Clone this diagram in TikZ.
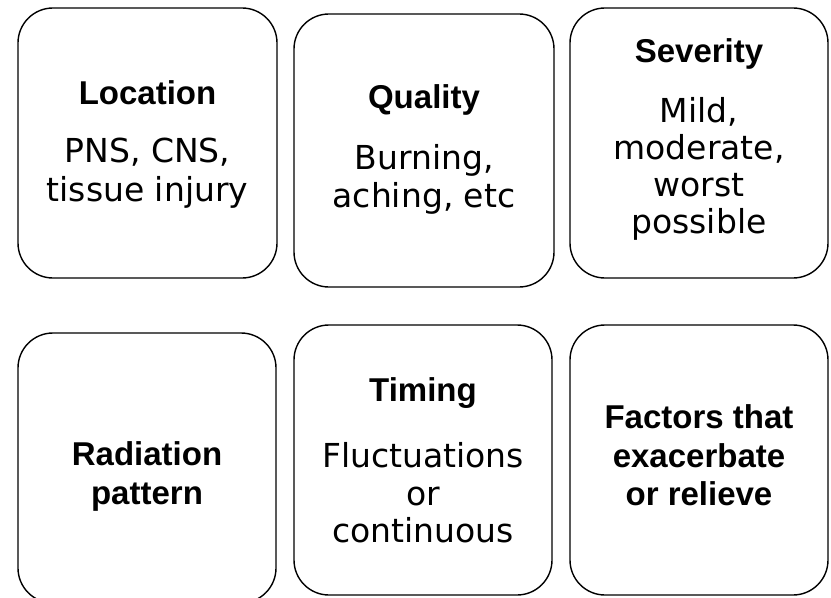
\documentclass[tikz,border=0pt]{standalone}
\usepackage{fontspec}
\setmainfont{DejaVu Sans}
\newfontfamily\headfont{Liberation Sans}
\tikzset{
  card/.style={draw=black, line width=1.4bp, rounded corners=35bp, inner sep=0pt},
  head/.style={anchor=base, inner sep=0pt, font=\headfont\bfseries\fontsize{33bp}{38bp}\selectfont},
  body/.style={anchor=base, inner sep=0pt, font=\fontsize{33bp}{38bp}\selectfont},
}
\begin{document}
\begin{tikzpicture}[x=1bp,y=-1bp]
\useasboundingbox (0,0) rectangle (831,598);
% cards
\node[card, minimum width=259bp, minimum height=270bp] (c1) at (147.5,143) {};
\node[card, minimum width=260bp, minimum height=273bp] (c2) at (424,150.5) {};
\node[card, minimum width=258bp, minimum height=270bp] (c3) at (699,143) {};
\node[card, minimum width=258bp, minimum height=270bp] (c4) at (147,468) {};
\node[card, minimum width=258bp, minimum height=270bp] (c5) at (423,460) {};
\node[card, minimum width=258bp, minimum height=270bp] (c6) at (699,460) {};
% card 1
\node[head] (t1h) at (147.5,105) {Location};
\node[body] (t1a) at (147.5,163) {PNS, CNS,};
\node[body] (t1b) at (147.5,202) {tissue injury};
% card 2
\node[head] (t2h) at (424,109) {Quality};
\node[body] (t2a) at (424,170) {Burning,};
\node[body] (t2b) at (424,208) {aching, etc};
% card 3
\node[head] (t3h) at (699,63) {Severity};
\node[body] (t3a) at (699,123) {Mild,};
\node[body] (t3b) at (699,160) {moderate,};
\node[body] (t3c) at (699,197) {worst};
\node[body] (t3d) at (699,234) {possible};
% card 4
\node[head] (t4a) at (147,465) {Radiation};
\node[head] (t4b) at (147,504) {pattern};
% card 5
\node[head] (t5h) at (423,401) {Timing};
\node[body] (t5a) at (423,467) {Fluctuations};
\node[body] (t5b) at (423,505) {or};
\node[body] (t5c) at (423,542) {continuous};
% card 6
\node[head] (t6a) at (699,428) {Factors that};
\node[head] (t6b) at (699,467) {exacerbate};
\node[head] (t6c) at (699,505) {or relieve};
\end{tikzpicture}
\end{document}
